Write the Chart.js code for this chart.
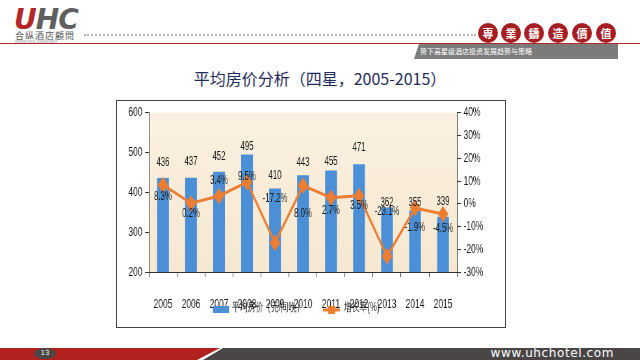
<!DOCTYPE html>
<html>
<head>
<meta charset="utf-8">
<script src="https://cdn.jsdelivr.net/npm/chart.js@4"></script>
<style>
  html, body { margin: 0; padding: 0; background: #fff; }
  #page { position: relative; width: 640px; height: 360px; overflow: hidden; font-family: "Noto Sans CJK SC", sans-serif; }
  .abs { position: absolute; }
  #logo { left: 14px; top: 3px; font: italic 900 28px "DejaVu Sans", sans-serif; letter-spacing: -1px; color: #5f5f5f; }
  #logo span { color: #b3262a; }
  #logoCn { left: 15px; top: 29px; font-size: 9px; color: #555; letter-spacing: 1px; }
  #logoEn { left: 15px; top: 40px; font-size: 3px; color: #777; }
  #dots { left: 84px; top: 34px; width: 392px; border-top: 2px dotted #b5b5b5; }
  #redline { left: 0; top: 43px; width: 640px; height: 1px; background: #b3262a; }
  #greybar { left: 414px; top: 44px; width: 204px; height: 15px; background: #7b7b7b; clip-path: polygon(5px 0, 100% 0, 100% 100%, 0 100%); }
  #greybar div { color: #fff; font-size: 7px; line-height: 15px; padding-left: 6px; white-space: nowrap; }
  .seal { width: 20px; height: 20px; border-radius: 50%; background: #a61d22; color: #fff; font-size: 11px; line-height: 20px; text-align: center; top: 23px; font-weight: 700; }
  #title { left: 0; width: 640px; top: 66px; text-align: center; font-size: 16px; color: #1f2b5b; }
  #frame { left: 116px; top: 100px; width: 390px; height: 228px; box-sizing: border-box; border: 1px solid #444; background: #fff; }
  #chartBox { left: 117px; top: 101px; width: 388px; height: 226px; }
  #footRed { left: 0; top: 348px; width: 220px; height: 12px; background: #b1221f; clip-path: polygon(0 0, 100% 0, 197px 100%, 0 100%); }
  #footGrey { left: 200px; top: 348px; width: 440px; height: 12px; background: #4a4646; clip-path: polygon(23px 0, 100% 0, 100% 100%, 3px 100%); }
  #pageNo { left: 34px; top: 348px; width: 22px; height: 11px; border-radius: 50%; background: #4d4646; color: #fff; font: 7px "DejaVu Sans", sans-serif; line-height: 11px; text-align: center; }
  #url { right: 26px; top: 346px; color: #fff; font: 12px "DejaVu Sans", sans-serif; letter-spacing: 0.6px; }
</style>
</head>
<body>
<div id="page">
  <div class="abs" id="logo"><span>U</span>HC</div>
  <div class="abs" id="logoCn">合纵酒店顧問</div>
  <div class="abs" id="logoEn">UNITED HOTEL CONSULTANCY</div>
  <div class="abs" id="dots"></div>
  <div class="abs" id="redline"></div>
  <div class="abs" id="greybar"><div>势下高星级酒店投资发展趋势与策略</div></div>
  <div class="abs seal" style="left:478px">専</div>
  <div class="abs seal" style="left:501px">業</div>
  <div class="abs seal" style="left:524px">鑄</div>
  <div class="abs seal" style="left:548px">造</div>
  <div class="abs seal" style="left:572px">價</div>
  <div class="abs seal" style="left:596px">值</div>
  <div class="abs" id="title">平均房价分析（四星，2005-2015）</div>
  <div class="abs" id="frame"></div>
  <div class="abs" id="chartBox"><canvas id="chart"></canvas></div>
  <div class="abs" id="footRed"></div>
  <div class="abs" id="footGrey"></div>
  <div class="abs" id="pageNo">13</div>
  <div class="abs" id="url">www.uhchotel.com</div>
</div>

<script>
/* chart data */
const years = ['2005', '2006', '2007', '2008', '2009', '2010', '2011', '2012', '2013', '2014', '2015'];
const avgRate = [436, 437, 452, 495, 410, 443, 455, 471, 362, 355, 339];
const growthPct = [8.3, 0.2, 3.4, 9.5, -17.2, 8.0, 2.7, 3.5, -23.1, -1.9, -4.5];
const rateLabel = '平均房价（元/间晚）';
const growthLabel = '增长率(%)';

const BLUE = '#4b8fd6';
const ORANGE = '#ed7d31';
const FONT = '"Liberation Sans", Arial, sans-serif';

// the slide's chart is a squeezed picture: draw wide, show narrow
const K = 0.65;
const canvas = document.getElementById('chart');
canvas.width = Math.round(388 / K);
canvas.height = 226;
canvas.style.width = '388px';
canvas.style.height = '226px';

// label nudges (px), the slide has them hand-placed
const rateLabelDy = [-15, -16, -15, -8, -13, -13, -9, -16, -5, -8, -15];
const growthLabelDy = [12, 10, -15, -5, -44, 28, 13, 10, -45, 20, 15];

/* beige plot background */
const plotBg = {
    id: 'plotBg',
    beforeDraw(chart) {
        const a = chart.chartArea;
        const ctx = chart.ctx;
        const g = ctx.createLinearGradient(0, a.top, 0, a.bottom);
        g.addColorStop(0, '#fbf1e1');
        g.addColorStop(1, '#f6e8d0');
        ctx.save();
        ctx.fillStyle = g;
        ctx.fillRect(a.left, a.top, a.right - a.left, a.bottom - a.top);
        ctx.restore();
    }
};

/* value labels on bars and points */
const valueLabels = {
    id: 'valueLabels',
    afterDatasetsDraw(chart) {
        const ctx = chart.ctx;
        ctx.save();
        ctx.font = '12px ' + FONT;
        ctx.fillStyle = '#1a1a1a';
        ctx.textAlign = 'center';
        ctx.textBaseline = 'middle';
        chart.getDatasetMeta(0).data.forEach((el, i) => {
            ctx.fillText(String(avgRate[i]), el.x, el.y + rateLabelDy[i]);
        });
        chart.getDatasetMeta(1).data.forEach((el, i) => {
            ctx.fillText(growthPct[i].toFixed(1) + '%', el.x, el.y + growthLabelDy[i]);
        });
        ctx.restore();
    }
};

/* legend sits on top of the year labels, like the slide */
const overlapLegend = {
    id: 'overlapLegend',
    afterDraw(chart) {
        const ctx = chart.ctx;
        const x0 = 96 / K;
        const y = 208;
        ctx.save();
        ctx.fillStyle = BLUE;
        ctx.fillRect(x0, y - 3, 16 / K, 7);
        ctx.font = '12px ' + FONT;
        ctx.fillStyle = '#1a1a1a';
        ctx.textBaseline = 'middle';
        ctx.fillText(rateLabel, x0 + 19 / K, y - 1);
        const x1 = 206 / K;
        ctx.strokeStyle = ORANGE;
        ctx.lineWidth = 3;
        ctx.beginPath();
        ctx.moveTo(x1, y + 1);
        ctx.lineTo(x1 + 17 / K, y + 1);
        ctx.stroke();
        ctx.fillStyle = ORANGE;
        ctx.fillRect(x1 + 5 / K, y - 3, 7 / K, 8);
        ctx.fillStyle = '#1a1a1a';
        ctx.fillText(growthLabel, x1 + 21 / K, y - 1);
        ctx.restore();
    }
};

const tickFont = { family: FONT, size: 13 };

new Chart(canvas, {
    type: 'bar',
    data: {
        labels: years,
        datasets: [
            {
                type: 'bar',
                label: rateLabel,
                data: avgRate,
                backgroundColor: BLUE,
                yAxisID: 'y',
                barPercentage: 0.42,
                categoryPercentage: 1,
                order: 2
            },
            {
                type: 'line',
                label: growthLabel,
                data: growthPct,
                borderColor: ORANGE,
                backgroundColor: ORANGE,
                borderWidth: 3,
                pointStyle: 'rectRot',
                pointRadius: 6,
                pointHoverRadius: 6,
                tension: 0,
                yAxisID: 'y1',
                order: 1
            }
        ]
    },
    options: {
        responsive: false,
        animation: false,
        layout: { padding: { top: 10, left: 0, right: 0, bottom: 0 } },
        plugins: {
            legend: { display: false },
            tooltip: { enabled: false }
        },
        scales: {
            x: {
                grid: { offset: true, drawOnChartArea: false, tickLength: 5, color: '#333' },
                border: { color: '#333' },
                ticks: { color: '#1a1a1a', font: tickFont, padding: 20, maxRotation: 0, autoSkip: false },
                afterFit: (s) => { s.height = 55; }
            },
            y: {
                position: 'left',
                min: 200,
                max: 600,
                grid: { drawOnChartArea: false, tickLength: 6, color: '#333' },
                border: { color: '#333' },
                ticks: { stepSize: 100, color: '#1a1a1a', font: tickFont, padding: 4 },
                afterFit: (s) => { s.width = 32 / K; }
            },
            y1: {
                position: 'right',
                min: -30,
                max: 40,
                grid: { drawOnChartArea: false, tickLength: 6, color: '#333' },
                border: { color: '#333' },
                ticks: {
                    stepSize: 10,
                    color: '#1a1a1a',
                    font: tickFont,
                    padding: 4,
                    callback: (v) => v + '%'
                },
                afterFit: (s) => { s.width = 48 / K; }
            }
        }
    },
    plugins: [plotBg, valueLabels, overlapLegend]
});
</script>
</body>
</html>
